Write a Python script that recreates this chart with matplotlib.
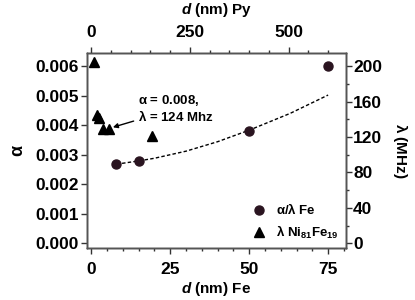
import matplotlib
matplotlib.use("Agg")
import matplotlib.pyplot as plt
from matplotlib.ticker import MultipleLocator

plt.rcParams['font.family'] = ['Liberation Sans', 'DejaVu Sans']
plt.rcParams['font.weight'] = 'bold'
plt.rcParams['mathtext.fontset'] = 'custom'
plt.rcParams['mathtext.rm'] = 'Liberation Sans'
plt.rcParams['mathtext.bf'] = 'Liberation Sans:bold'
plt.rcParams['mathtext.it'] = 'Liberation Sans:italic:bold'
plt.rcParams['mathtext.default'] = 'rm'

# Fe films: thickness (nm) vs damping alpha
fe_d = [8, 15, 50, 75]
fe_alpha = [0.00268, 0.00278, 0.0038, 0.0060]

# dashed fit through the Fe points
fit_d = [8, 15, 20, 30, 40, 50, 63, 75]
fit_alpha = [0.00268, 0.00279, 0.00288, 0.00312, 0.00344, 0.00383, 0.0044, 0.00502]

# Ni81Fe19 (Py) films: thickness (nm) vs lambda (MHz)
py_d = [8, 14, 20, 31, 46, 153]
py_lam = [205, 145, 142, 129, 129, 121]

alpha_ticks = [0.000, 0.001, 0.002, 0.003, 0.004, 0.005, 0.006]
lam_ticks = [0, 40, 80, 120, 160, 200]

# right axis: 200 MHz <-> 0.006 ; top axis: Py = 8 x Fe
lam_per_alpha = 200 / 0.006
py_per_fe = 8

fig = plt.figure(figsize=(4.15, 3.0), dpi=100)
ax = fig.add_axes([0.209, 0.173, 0.625, 0.651])
ax2 = ax.twinx()
ax3 = ax2.twiny()

xlim = (-1.4, 80.7)
ylim = (-0.00016, 0.00645)
ax.set_xlim(xlim)
ax.set_ylim(ylim)
ax2.set_ylim(ylim[0] * lam_per_alpha, ylim[1] * lam_per_alpha)
ax3.set_xlim(xlim[0] * py_per_fe, xlim[1] * py_per_fe)

ax.plot(fit_d, fit_alpha, color='black', lw=1.0, dashes=(2.5, 1.6), zorder=2)
circ, = ax.plot(fe_d, fe_alpha, 'o', color='#2a1420', ms=6.5, zorder=3,
                label=r'$\alpha/\lambda$ Fe')
tri, = ax3.plot(py_d, py_lam, '^', color='black', ms=6.5,
                label=r'$\lambda$ Ni$_{\mathbf{81}}$Fe$_{\mathbf{19}}$')

ax3.annotate('$\\alpha$ = 0.008,\n$\\lambda$ = 124 Mhz', xy=(55, 131), xytext=(118, 152),
             fontsize=9.5, fontweight='bold', va='center', ha='left',
             linespacing=1.1,
             arrowprops=dict(arrowstyle='-|>', color='black', lw=1.0,
                             mutation_scale=7, shrinkA=1, shrinkB=0))

ax.set_yticks(alpha_ticks)
ax.set_yticklabels(['%.3f' % v for v in alpha_ticks])
ax.xaxis.set_major_locator(MultipleLocator(25))
ax.xaxis.set_minor_locator(MultipleLocator(5))
ax2.set_yticks(lam_ticks)
ax2.yaxis.set_minor_locator(MultipleLocator(20))
ax3.xaxis.set_major_locator(MultipleLocator(250))
ax3.xaxis.set_minor_locator(MultipleLocator(50))

for a in (ax, ax2, ax3):
    a.tick_params(which='major', direction='out', length=4, width=1,
                  labelsize=12.5, color='#333333', pad=2)
    a.tick_params(which='minor', direction='out', length=2.5, width=1,
                  color='#333333')
    for s in a.spines.values():
        s.set_color('#555555')
        s.set_linewidth(1)
ax.tick_params(axis='x', pad=6)
ax3.tick_params(axis='x', pad=5)
ax2.tick_params(axis='y', pad=1)

ax.set_xlabel(r'$\mathit{d}$ (nm) Fe', fontsize=11, fontweight='bold', labelpad=2)
ax3.set_xlabel(r'$\mathit{d}$ (nm) Py', fontsize=11, fontweight='bold', labelpad=8)
ax.set_ylabel(r'$\alpha$', fontsize=13, labelpad=6)
ax2.set_ylabel(r'$\lambda$ (MHz)', fontsize=11, fontweight='bold',
               rotation=270, labelpad=20)

ax3.legend([circ, tri], [circ.get_label(), tri.get_label()], loc='lower right',
           bbox_to_anchor=(1.0, 0.0), frameon=False, fontsize=9.5,
           handlelength=1.0, handletextpad=0.8, labelspacing=0.5,
           borderaxespad=0.15)

fig.savefig('out.png', dpi=100)
